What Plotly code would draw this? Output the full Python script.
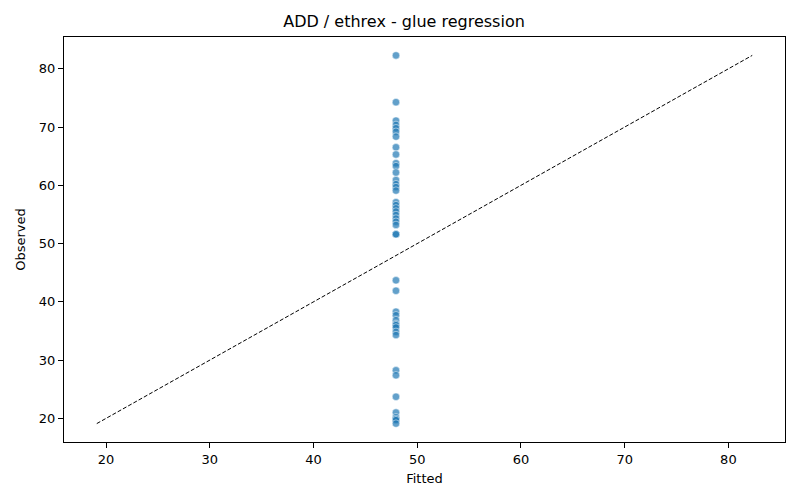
import plotly.graph_objects as go

fitted_value = 47.95
observed = [
    82.3, 74.27, 71.1, 70.37, 69.8, 69.2, 68.36, 66.53, 65.3, 63.8, 63.3,
    62.2, 60.9, 60.2, 59.7, 59.1, 57.1, 56.6, 56.05, 55.5, 54.9, 54.3,
    53.75, 53.2, 51.6, 51.6,
    43.7, 41.9, 38.3, 37.7, 36.85, 36.2, 36.0, 35.6, 34.85, 34.3,
    28.25, 27.4, 23.7, 21.0, 20.2, 19.9, 19.7, 19.1,
]
fitted = [fitted_value] * len(observed)

lo = min(observed)
hi = max(observed)

fig = go.Figure()
fig.add_trace(go.Scatter(
    x=fitted, y=observed, mode="markers",
    marker=dict(size=7.5, color="rgba(31,119,180,0.7)",
                line=dict(color="white", width=0.5)),
    showlegend=False,
))
fig.add_trace(go.Scatter(
    x=[lo, hi], y=[lo, hi], mode="lines",
    line=dict(color="black", width=1, dash="4px,2px"),
    showlegend=False,
))

pad = 0.05 * (hi - lo)
axis_common = dict(
    showline=True, linecolor="black", linewidth=1, mirror=True,
    ticks="outside", ticklen=5, tickcolor="black", tickwidth=1,
    showgrid=False, zeroline=False,
    tickfont=dict(family="DejaVu Sans", size=13, color="black"),
    title_font=dict(family="DejaVu Sans", size=13, color="black"),
    dtick=10,
)
fig.update_layout(
    width=792, height=492,
    margin=dict(l=54, r=15, t=29, b=58),
    paper_bgcolor="white", plot_bgcolor="white",
    title=dict(text="ADD / ethrex - glue regression", x=0.5, xanchor="center",
               y=0.972, yanchor="middle",
               font=dict(family="DejaVu Sans", size=16, color="black")),
    xaxis=dict(title=dict(text="Fitted", standoff=8),
               range=[lo - pad, hi + pad], **axis_common),
    yaxis=dict(title=dict(text="Observed", standoff=10),
               range=[lo - pad, hi + pad], **axis_common),
)

fig.write_html("out.html")
